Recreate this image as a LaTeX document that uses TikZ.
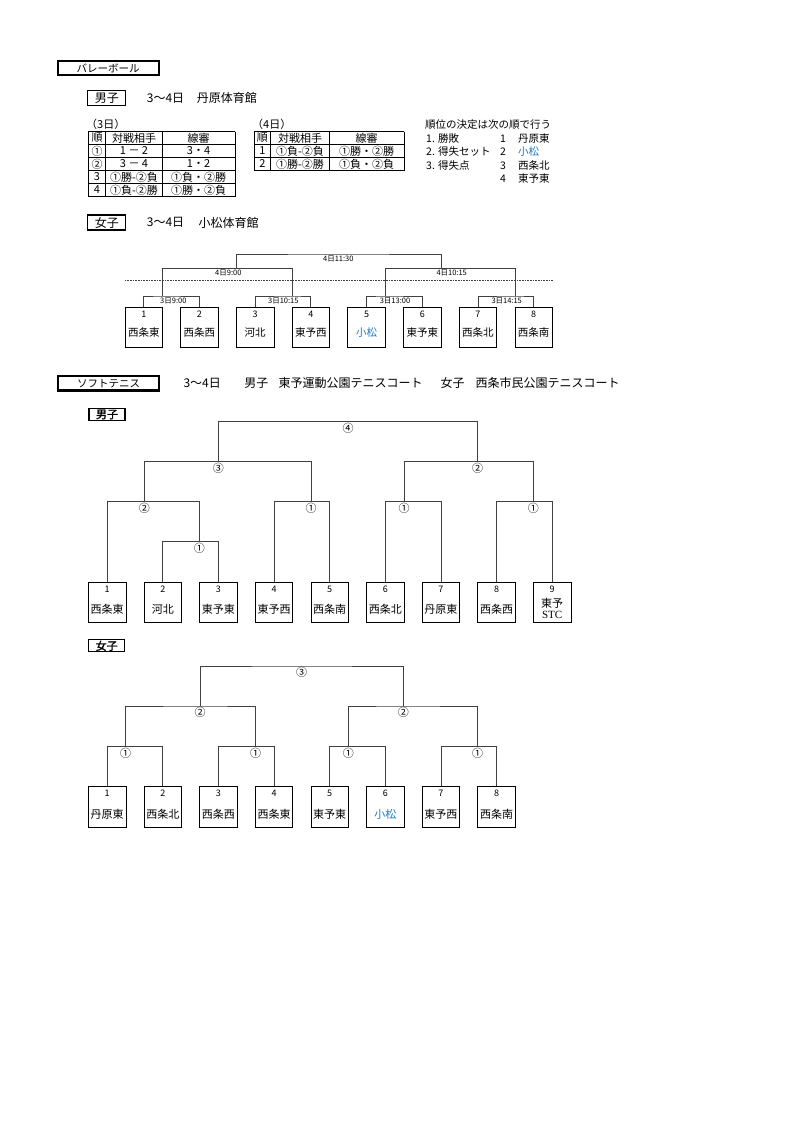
\documentclass[tikz,border=0pt]{standalone}
\usepackage{fontspec}
\setmainfont{Noto Sans CJK JP}
\newfontfamily\stcfont{Liberation Serif}
\newfontfamily\jpbold[FakeBold=1.5]{Noto Sans CJK JP}
\usetikzlibrary{calc}
\definecolor{komatsu}{RGB}{30,120,190}
\definecolor{linegray}{RGB}{64,64,64}
\tikzstyle{titlebox}=[draw=black,line width=2.2pt,minimum width=101pt,minimum height=14.5pt,inner sep=0pt,font=\fontsize{10.5}{12}\selectfont]
\tikzstyle{sexbox}=[draw=black,line width=1.1pt,minimum width=38pt,minimum height=15pt,inner sep=0pt,font=\fontsize{12}{13}\selectfont]
\tikzstyle{smallsexbox}=[draw=black,line width=1.1pt,minimum width=36pt,minimum height=12pt,inner sep=0pt,font=\jpbold\fontsize{11}{12}\selectfont]
\tikzstyle{teambox}=[draw=black,line width=0.8pt,minimum width=37.5pt,minimum height=40pt,inner sep=0pt]
\tikzstyle{num}=[font=\fontsize{9}{10}\selectfont,inner sep=0pt]
\tikzstyle{team}=[font=\fontsize{10.5}{12}\selectfont,inner sep=0pt]
\tikzstyle{headtext}=[anchor=west,inner sep=0pt,font=\fontsize{12}{13}\selectfont]
\tikzstyle{cell}=[inner sep=0pt,font=\fontsize{11}{12}\selectfont]
\tikzstyle{ranktext}=[anchor=west,inner sep=0pt,font=\fontsize{10.5}{12}\selectfont]
\tikzstyle{bracketline}=[draw=linegray,line width=0.8pt]
\tikzstyle{timelabel}=[inner sep=0pt,font=\fontsize{7.5}{8}\selectfont]
\tikzstyle{rndlabel}=[inner sep=0pt,font=\fontsize{11}{12}\selectfont]

\begin{document}
\begin{tikzpicture}[x=1pt,y=-1pt]
\path[use as bounding box] (0,0) rectangle (800,1132);

%Volleyball heading
\node[titlebox] (vbtitle) at (108.2,68) {バレーボール};
\node[sexbox] (vbmen) at (106.9,98.4) {男子};
\node[headtext] (vbmendate) at (146.7,98.4) {3～4日};
\node[headtext] (vbmenhall) at (196.7,98.4) {丹原体育館};

% table (3日)
\node[cell,anchor=west] (day3) at (86,124) {（3日）};
\foreach \x in {88.3,105.7,162.3,235}
    \draw[line width=0.8pt] (\x,131.5) -- (\x,196.5);
\foreach \y in {131.5,144.5,157.5,170.5,183.5,196.5}
    \draw[line width=0.8pt] (88.3,\y) -- (235,\y);
\foreach \r/\a/\b/\c in {138/順/対戦相手/線審, 151/①/1 － 2/3・4, 164/②/3 － 4/1・2, 177/3/①勝-②負/①負・②勝, 190/4/①負-②勝/①勝・②負}
{
    \node[cell] (tda\r) at (97,\r) {\a};
    \node[cell] (tdb\r) at (134,\r) {\b};
    \node[cell] (tdc\r) at (198.6,\r) {\c};
}

% table (4日)
\node[cell,anchor=west] (day4) at (252,124) {（4日）};
\foreach \x in {254,270.7,329.3,404}
    \draw[line width=0.8pt] (\x,131.5) -- (\x,170.5);
\foreach \y in {131.5,144.5,157.5,170.5}
    \draw[line width=0.8pt] (254,\y) -- (404,\y);
\foreach \r/\a/\b/\c in {138/順/対戦相手/線審, 151/1/①負-②負/①勝・②勝, 164/2/①勝-②勝/①負・②負}
{
    \node[cell] (tea\r) at (262.4,\r) {\a};
    \node[cell] (teb\r) at (300,\r) {\b};
    \node[cell] (tec\r) at (366.6,\r) {\c};
}

% ranking rule
\node[ranktext] (rank) at (425,125) {順位の決定は次の順で行う};
\foreach \y/\rule/\i/\name/\col in {138.5/1. 勝敗/1/丹原東/black, 152/2. 得失セット/2/小松/komatsu, 165.5/3. 得失点/3/西条北/black, 179//4/東予東/black}
{
    \node[ranktext] (rulea\i) at (426,\y) {\rule};
    \node[ranktext] (ruleb\i) at (500,\y) {\i};
    \node[ranktext,text=\col] (rulec\i) at (518,\y) {\name};
}

\node[sexbox] (vbwomen) at (106.9,222.5) {女子};
\node[headtext] (vbwomendate) at (146.7,222.5) {3～4日};
\node[headtext] (vbwomenhall) at (198.3,222.5) {小松体育館};

%Volleyball women bracket
\foreach \i/\name/\col in {1/西条東/black,2/西条西/black,3/河北/black,4/東予西/black,5/小松/komatsu,6/東予東/black,7/西条北/black,8/西条南/black}
{
    \pgfmathsetmacro{\cx}{143.75+55.7*(\i-1)}
    \node[teambox] (vb\i) at (\cx,327.5) {};
    \node[num] (vbn\i) at ($(vb\i.north)+(0,7)$) {\i};
    \node[team,text=\col] (vbt\i) at ($(vb\i.center)+(0,5.2)$) {\name};
}
\coordinate (vbJ1) at (162.7,296);
\coordinate (vbJ2) at (292.3,296);
\coordinate (vbJ3) at (385,296);
\coordinate (vbJ4) at (515,296);
\coordinate (vbK1) at (236.7,268.3);
\coordinate (vbK2) at (441,268.3);
\coordinate (vbTop) at (338.3,254);
%layer 1
\foreach \left/\right/\join in {vb1/vb2/vbJ1, vb3/vb4/vbJ2, vb5/vb6/vbJ3, vb7/vb8/vbJ4}
    \draw[bracketline] (\left.north) |- (\join) -| (\right.north);
%layer 2
\draw[bracketline] (vbJ1) |- (vbK1) -| (vbJ2);
\draw[bracketline] (vbJ3) |- (vbK2) -| (vbJ4);
%layer 3
\draw[bracketline] (vbK1) |- (vbTop) -| (vbK2);
\draw[linegray,line width=0.6pt,dash pattern=on 0.8pt off 0.8pt] (125,280.7) -- (553,280.7);

\node[timelabel] (vbl1) at (173.3,300.9) {3日9:00};
\node[timelabel] (vbl2) at (283.3,300.9) {3日10:15};
\node[timelabel] (vbl3) at (395,300.9) {3日13:00};
\node[timelabel] (vbl4) at (506.7,300.9) {3日14:15};
\node[timelabel] (vbl5) at (228.3,273.3) {4日9:00};
\node[timelabel] (vbl6) at (451.7,273.3) {4日10:15};
\node[timelabel] (vbl7) at (338.3,259.3) {4日11:30};

%Soft tennis heading
\node[titlebox] (sttitle) at (108.7,383.3) {ソフトテニス};
\node[headtext] (stdate) at (183.3,383.3) {3～4日};
\node[headtext] (stmen) at (244.2,383.3) {男子};
\node[headtext] (stmencourt) at (278.3,383.3) {東予運動公園テニスコート};
\node[headtext] (stwomen) at (440.3,383.3) {女子};
\node[headtext] (stwomencourt) at (475.4,383.3) {西条市民公園テニスコート};

%Soft tennis men
\node[smallsexbox] (tmlabel) at (107,414.5) {男子};
\foreach \i/\name in {1/西条東,2/河北,3/東予東,4/東予西,5/西条南,6/西条北,7/丹原東,8/西条西}
{
    \pgfmathsetmacro{\cx}{107.15+55.63*(\i-1)}
    \node[teambox] (tm\i) at (\cx,602.3) {};
    \node[num] (tmn\i) at ($(tm\i.north)+(0,7.5)$) {\i};
    \node[team,font=\fontsize{11}{12}\selectfont] (tmt\i) at ($(tm\i.center)+(0,7.5)$) {\name};
}
\node[teambox] (tm9) at (552.2,602.3) {};
\node[num] (tmn9) at ($(tm9.north)+(0,7.5)$) {9};
\node[team,font=\fontsize{11}{12}\selectfont] (tmt9) at ($(tm9.center)+(0,1)$) {東予};
\node[team,font=\stcfont\fontsize{11}{12}\selectfont] (tmstc9) at ($(tm9.center)+(0,12.7)$) {STC};

\coordinate (tmA) at (199.3,541.7);
\coordinate (tmB) at (144.3,501.7);
\coordinate (tmC) at (311,501.7);
\coordinate (tmD) at (218.3,461.7);
\coordinate (tmE) at (404,501.7);
\coordinate (tmF) at (533.3,501.7);
\coordinate (tmG) at (477.7,461.7);
\coordinate (tmH) at (348,421.7);
%layer 1
\draw[bracketline] (tm2.north) |- (tmA) -| (tm3.north);
\draw[bracketline] (tm4.north) |- (tmC) -| (tm5.north);
\draw[bracketline] (tm6.north) |- (tmE) -| (tm7.north);
\draw[bracketline] (tm8.north) |- (tmF) -| (tm9.north);
%layer 2
\draw[bracketline] (tm1.north) |- (tmB) -| (tmA);
\draw[bracketline] (tmB) |- (tmD) -| (tmC);
\draw[bracketline] (tmE) |- (tmG) -| (tmF);
%layer 3
\draw[bracketline] (tmD) |- (tmH) -| (tmG);

\foreach \join/\lab in {tmA/①, tmB/②, tmC/①, tmD/③, tmE/①, tmF/①, tmG/②, tmH/④}
    \node[rndlabel] (\join l) at ($(\join)+(0,6.3)$) {\lab};

%Soft tennis women
\node[smallsexbox] (twlabel) at (106.7,645.8) {女子};
\foreach \i/\name/\col in {1/丹原東/black,2/西条北/black,3/西条西/black,4/西条東/black,5/東予東/black,6/小松/komatsu,7/東予西/black,8/西条南/black}
{
    \pgfmathsetmacro{\cx}{107.15+55.63*(\i-1)}
    \node[teambox,minimum height=41pt] (tw\i) at (\cx,807.2) {};
    \node[num] (twn\i) at ($(tw\i.north)+(0,7)$) {\i};
    \node[team,text=\col,font=\fontsize{11}{12}\selectfont] (twt\i) at ($(tw\i.center)+(0,6.8)$) {\name};
}
\coordinate (twA) at (125.7,746.7);
\coordinate (twB) at (255.7,746.7);
\coordinate (twC) at (348.3,746.7);
\coordinate (twD) at (477.7,746.7);
\coordinate (twE) at (200,706);
\coordinate (twF) at (403.3,706);
\coordinate (twG) at (301.7,666);
%layer 1
\foreach \left/\right/\join in {tw1/tw2/twA, tw3/tw4/twB, tw5/tw6/twC, tw7/tw8/twD}
    \draw[bracketline] (\left.north) |- (\join) -| (\right.north);
%layer 2
\draw[bracketline] (twA) |- (twE) -| (twB);
\draw[bracketline] (twC) |- (twF) -| (twD);
%layer 3
\draw[bracketline] (twE) |- (twG) -| (twF);

\foreach \join/\lab in {twA/①, twB/①, twC/①, twD/①, twE/②, twF/②, twG/③}
    \node[rndlabel] (\join l) at ($(\join)+(0,6.7)$) {\lab};

\end{tikzpicture}
\end{document}
